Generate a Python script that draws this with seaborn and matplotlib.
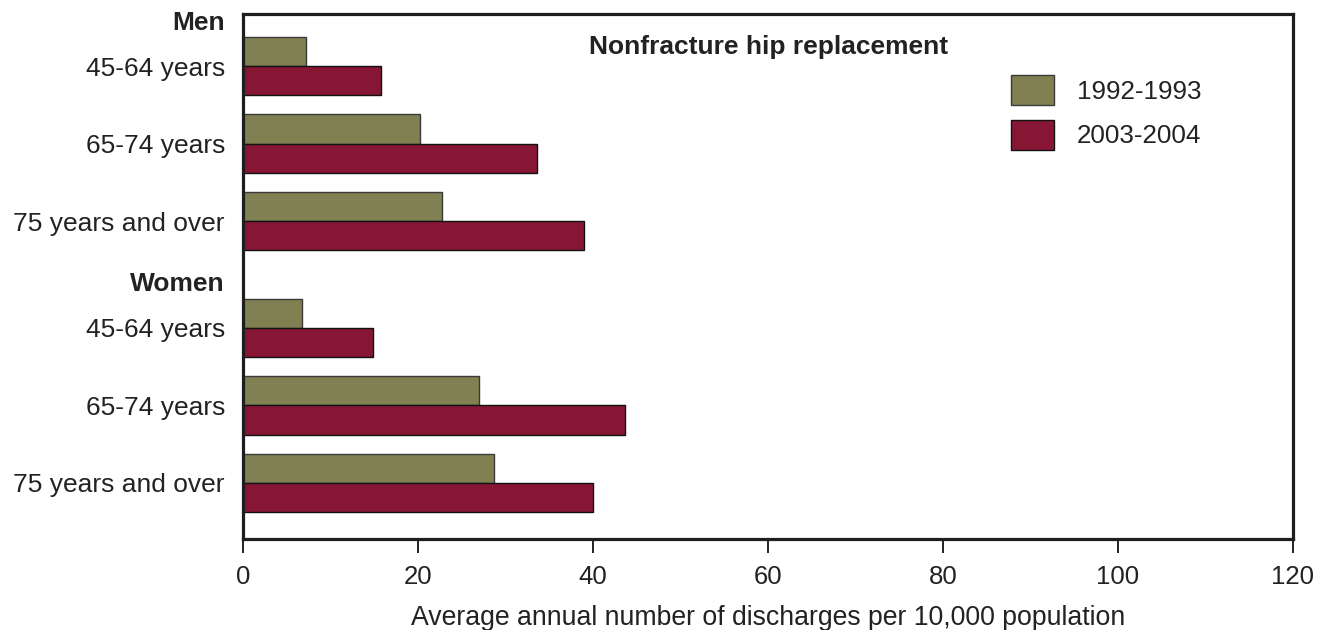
import matplotlib
matplotlib.use("Agg")
import matplotlib.pyplot as plt
from matplotlib.patches import Patch
import pandas as pd
import seaborn as sns

# Data
age_bands = ["45-64 years", "65-74 years", "75 years and over"] * 2
rate_1992_1993 = [7.2, 20.2, 22.7, 6.7, 27.0, 28.7]
rate_2003_2004 = [15.8, 33.6, 39.0, 14.9, 43.7, 40.0]
periods = ["1992-1993", "2003-2004"]
group_names = ["Men", "Women"]

# Layout: row positions (wider gap between men and women) and header rows
row_pos = [0, 1, 2, 3.38, 4.38, 5.38]
header_pos = [-0.555, 2.813]

olive = "#808052"
maroon = "#861634"
edges = ["#3a3a3a", "#111111"]

df = pd.DataFrame({
    "pos": row_pos * 2,
    "period": [periods[0]] * 6 + [periods[1]] * 6,
    "rate": rate_1992_1993 + rate_2003_2004,
})

sns.set_style("ticks")
plt.rcParams["font.family"] = ["Liberation Sans", "DejaVu Sans"]

fig, ax = plt.subplots(figsize=(13.21, 6.30), dpi=100)
fig.subplots_adjust(left=243 / 1321, right=1293 / 1321, top=1 - 14 / 630, bottom=1 - 539 / 630)

sns.barplot(data=df, x="rate", y="pos", hue="period", hue_order=periods,
            orient="h", native_scale=True, palette=[olive, maroon], saturation=1,
            width=0.75, linewidth=1.0, legend=False, ax=ax)

# different outline per series
for cont, ec in zip(ax.containers, edges):
    for bar in cont:
        bar.set_edgecolor(ec)

ax.set_xlim(0, 120)
ax.set_ylim(6.103, -0.671)
ax.set_xticks(range(0, 121, 20))
ax.set_yticks(row_pos)
ax.set_yticklabels(age_bands)
ax.set_ylabel("")
ax.set_xlabel("Average annual number of discharges per 10,000 population",
              fontsize=19.2, color="#222222", labelpad=11)

ax.tick_params(axis="y", length=0, pad=13, labelsize=19, labelcolor="#222222")
ax.tick_params(axis="x", direction="out", length=10, width=1.4, pad=9,
               labelsize=18.5, labelcolor="#222222", color="#222222")

for side in ["top", "bottom", "left", "right"]:
    ax.spines[side].set_visible(True)
    ax.spines[side].set_linewidth(2.3)
    ax.spines[side].set_color("#1e1e1e")

# group headers
for name, y in zip(group_names, header_pos):
    ax.text(-18 / 1050, y, name, transform=ax.get_yaxis_transform(),
            ha="right", va="center", fontsize=19, fontweight="bold", color="#222222")

ax.text(0.501, 0.937, "Nonfracture hip replacement", transform=ax.transAxes,
        ha="center", va="center", fontsize=19, fontweight="bold", color="#222222")

handles = [Patch(facecolor=c, edgecolor=e, linewidth=1.0) for c, e in zip([olive, maroon], edges)]
ax.legend(handles, periods, loc="upper left", bbox_to_anchor=(1011 / 1321, 1 - 75 / 630),
          bbox_transform=fig.transFigure, frameon=False, fontsize=18.7, borderpad=0,
          borderaxespad=0, handlelength=1.65, handleheight=1.42, labelspacing=0.55,
          handletextpad=0.88, labelcolor="#222222")

fig.savefig("out.png", dpi=100)
